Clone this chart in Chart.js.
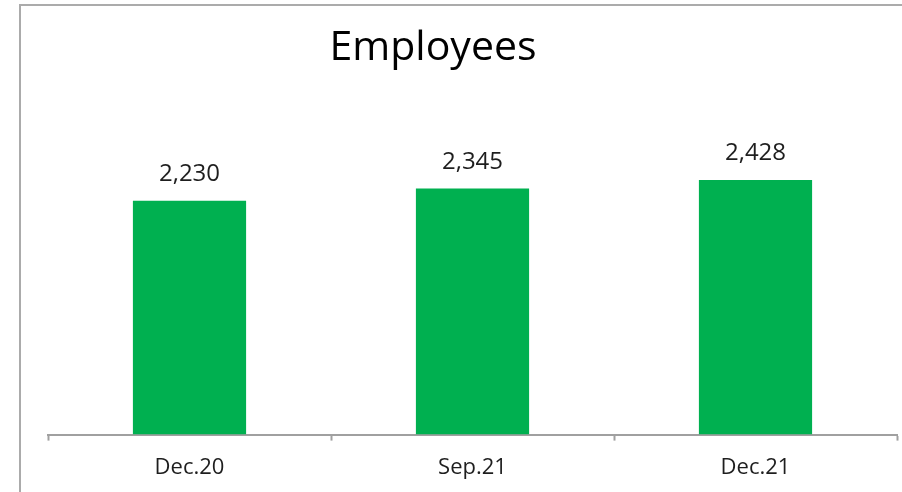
<!DOCTYPE html>
<html>
<head>
<meta charset="utf-8">
<script src="https://cdn.jsdelivr.net/npm/chart.js@4"></script>
<style>
  body { margin: 0; background: #fff; }
  #wrap { position: relative; width: 902px; height: 492px; overflow: hidden; }
  #frame { position: absolute; left: 19px; top: 4px; width: 1000px; height: 600px; border: 2px solid #ababab; }
  canvas { position: absolute; left: 0; top: 0; }
</style>
</head>
<body>
<div id="wrap">
  <div id="frame"></div>
  <canvas id="myChart" width="902" height="507"></canvas>
</div>
<script>
const categories = ["Dec.20", "Sep.21", "Dec.21"];
const employees = [2230, 2345, 2428];
const chartTitle = "Employees";

// title + value labels drawn on top of the bars
const labelsPlugin = {
  id: 'labelsPlugin',
  afterDatasetsDraw(chart) {
    const c = chart.ctx;
    c.save();
    c.fillStyle = '#000';
    c.textAlign = 'center';
    c.textBaseline = 'alphabetic';
    c.font = '41px "Open Sans"';
    c.fillText(chartTitle, 433, 60);

    c.fillStyle = '#1e1e1e';
    c.font = '24px "Open Sans"';
    const meta = chart.getDatasetMeta(0);
    meta.data.forEach((bar, i) => {
      c.fillText(employees[i].toLocaleString('en-US'), bar.x, bar.y - 20);
    });
    c.restore();
  }
};

const ctx = document.getElementById('myChart');

new Chart(ctx, {
  type: 'bar',
  data: {
    labels: categories,
    datasets: [{
      label: chartTitle,
      data: employees,
      backgroundColor: '#00B050',
      borderWidth: 0,
      barPercentage: 0.4,
      categoryPercentage: 1
    }]
  },
  options: {
    responsive: false,
    animation: false,
    layout: {
      padding: { top: 15, left: 48, right: 5, bottom: 12 }
    },
    plugins: {
      legend: { display: false },
      tooltip: { enabled: false }
    },
    scales: {
      y: {
        display: false,
        min: 0,
        max: 4000
      },
      x: {
        grid: {
          drawOnChartArea: false,
          tickLength: 6,
          tickColor: '#a0a0a0',
          tickWidth: 2
        },
        border: { color: '#a0a0a0', width: 2 },
        ticks: {
          color: '#1e1e1e',
          padding: 14,
          font: { family: 'Open Sans', size: 22 }
        }
      }
    }
  },
  plugins: [labelsPlugin]
});
</script>
</body>
</html>
